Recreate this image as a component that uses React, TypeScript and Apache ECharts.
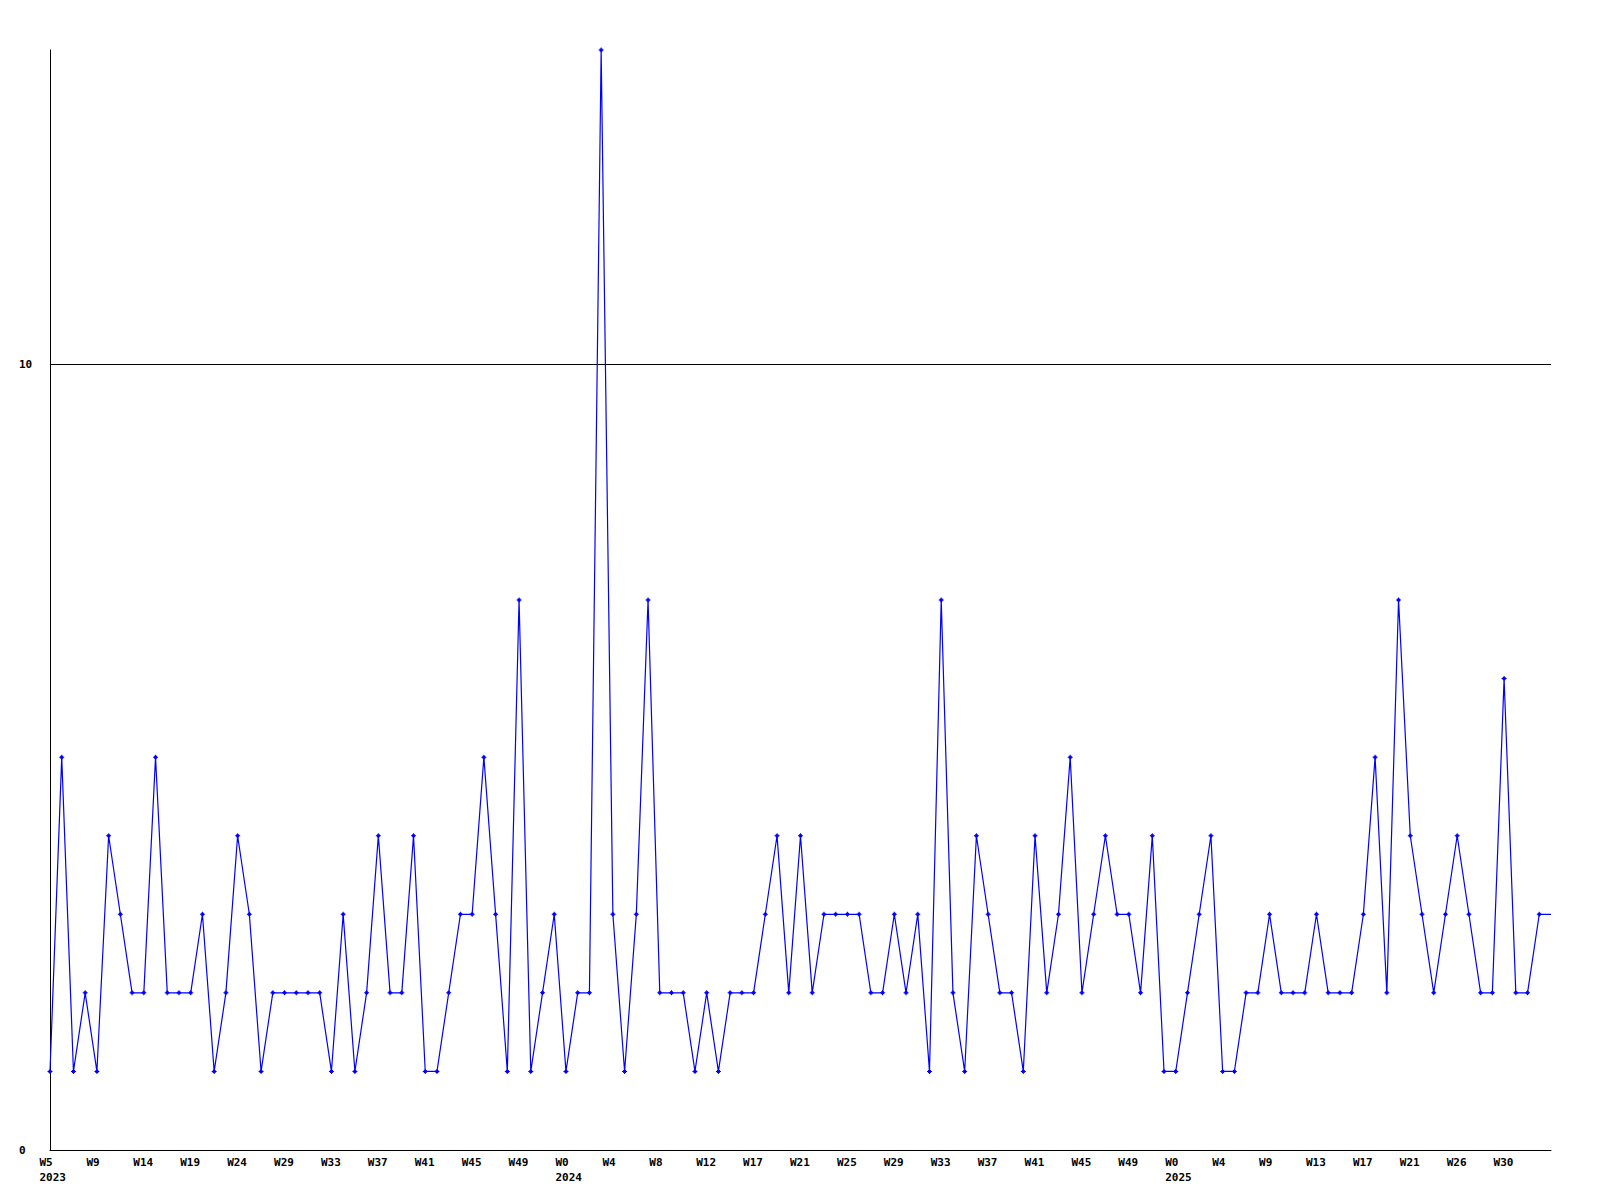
import React, { useEffect, useRef } from "react";
import * as echarts from "echarts";

// Weekly counts, one value per point (129 points)
const values: number[] = [
  1, 5, 1, 2, 1, 4, 3, 2, 2, 5,
  2, 2, 2, 3, 1, 2, 4, 3, 1, 2,
  2, 2, 2, 2, 1, 3, 1, 2, 4, 2,
  2, 4, 1, 1, 2, 3, 3, 5, 3, 1,
  7, 1, 2, 3, 1, 2, 2, 14, 3, 1,
  3, 7, 2, 2, 2, 1, 2, 1, 2, 2,
  2, 3, 4, 2, 4, 2, 3, 3, 3, 3,
  2, 2, 3, 2, 3, 1, 7, 2, 1, 4,
  3, 2, 2, 1, 4, 2, 3, 5, 2, 3,
  4, 3, 3, 2, 4, 1, 1, 2, 3, 4,
  1, 1, 2, 2, 3, 2, 2, 2, 3, 2,
  2, 2, 3, 5, 2, 7, 4, 3, 2, 3,
  4, 3, 2, 2, 6, 2, 2, 3, 3,
];

// Tick labels, one every 4 points
const tickLabels: string[] = [
  "W5", "W9", "W14", "W19", "W24", "W29", "W33", "W37", "W41", "W45", "W49",
  "W0", "W4", "W8", "W12", "W17", "W21", "W25", "W29", "W33", "W37", "W41", "W45", "W49",
  "W0", "W4", "W9", "W13", "W17", "W21", "W26", "W30",
];

// Year labels shown under particular tick labels (tick index -> year)
const yearTickIndex: number[] = [0, 11, 24];
const yearLabels: string[] = ["2023", "2024", "2025"];

const FONT = "DejaVu Sans Mono";

export default function App() {
  const ref = useRef<HTMLDivElement>(null);

  useEffect(() => {
    if (!ref.current) return;
    const chart = echarts.init(ref.current, undefined, { renderer: "svg" });
    const lastIdx = values.length - 1;
    const data = values.map((v, i) =>
      i === lastIdx ? { value: [i, v], symbol: "none" } : { value: [i, v] }
    );
    chart.setOption({
      animation: false,
      backgroundColor: "#ffffff",
      grid: { left: 50, right: 49, top: 50, bottom: 50, outerBoundsMode: "none" },
      xAxis: {
        type: "value",
        min: 0,
        max: lastIdx,
        interval: 4,
        axisLine: { show: true, lineStyle: { color: "#000", width: 1 } },
        axisTick: { show: false },
        splitLine: { show: false },
        axisLabel: {
          show: true,
          margin: 5,
          align: "center",
          formatter: (v: number) => {
            const k = Math.round(v / 4);
            if (k >= tickLabels.length) return "";
            const yi = yearTickIndex.indexOf(k);
            if (yi >= 0) return `{a|${tickLabels[k]}}\n{a|${yearLabels[yi]}}`;
            return `{a|${tickLabels[k]}}`;
          },
          rich: {
            a: {
              width: 21,
              align: "left",
              fontFamily: FONT,
              fontWeight: "bold",
              fontSize: 11,
              lineHeight: 15,
              color: "#000",
            },
          },
        },
      },
      yAxis: {
        type: "value",
        min: 0,
        max: 14,
        interval: 10,
        axisLine: { show: true, lineStyle: { color: "#000", width: 1 } },
        axisTick: { show: false },
        splitLine: {
          show: true,
          showMaxLine: false,
          lineStyle: { color: "#000", width: 1 },
        },
        axisLabel: {
          show: true,
          showMaxLabel: false,
          align: "left",
          margin: 31,
          fontFamily: FONT,
          fontWeight: "bold",
          fontSize: 11,
          color: "#000",
        },
      },
      series: [
        {
          type: "line",
          data,
          lineStyle: { color: "#0000ff", width: 1.2 },
          itemStyle: { color: "#0000ff" },
          symbol: "path://M2,0H3V1H4V2H5V3H4V4H3V5H2V4H1V3H0V2H1V1H2Z",
          symbolSize: 5,
          showAllSymbol: true,
          clip: true,
        },
      ],
    });
    return () => chart.dispose();
  }, []);

  return (
    <div
      ref={ref}
      style={{ position: "absolute", left: 0, top: 0, width: 1600, height: 1200 }}
    />
  );
}
